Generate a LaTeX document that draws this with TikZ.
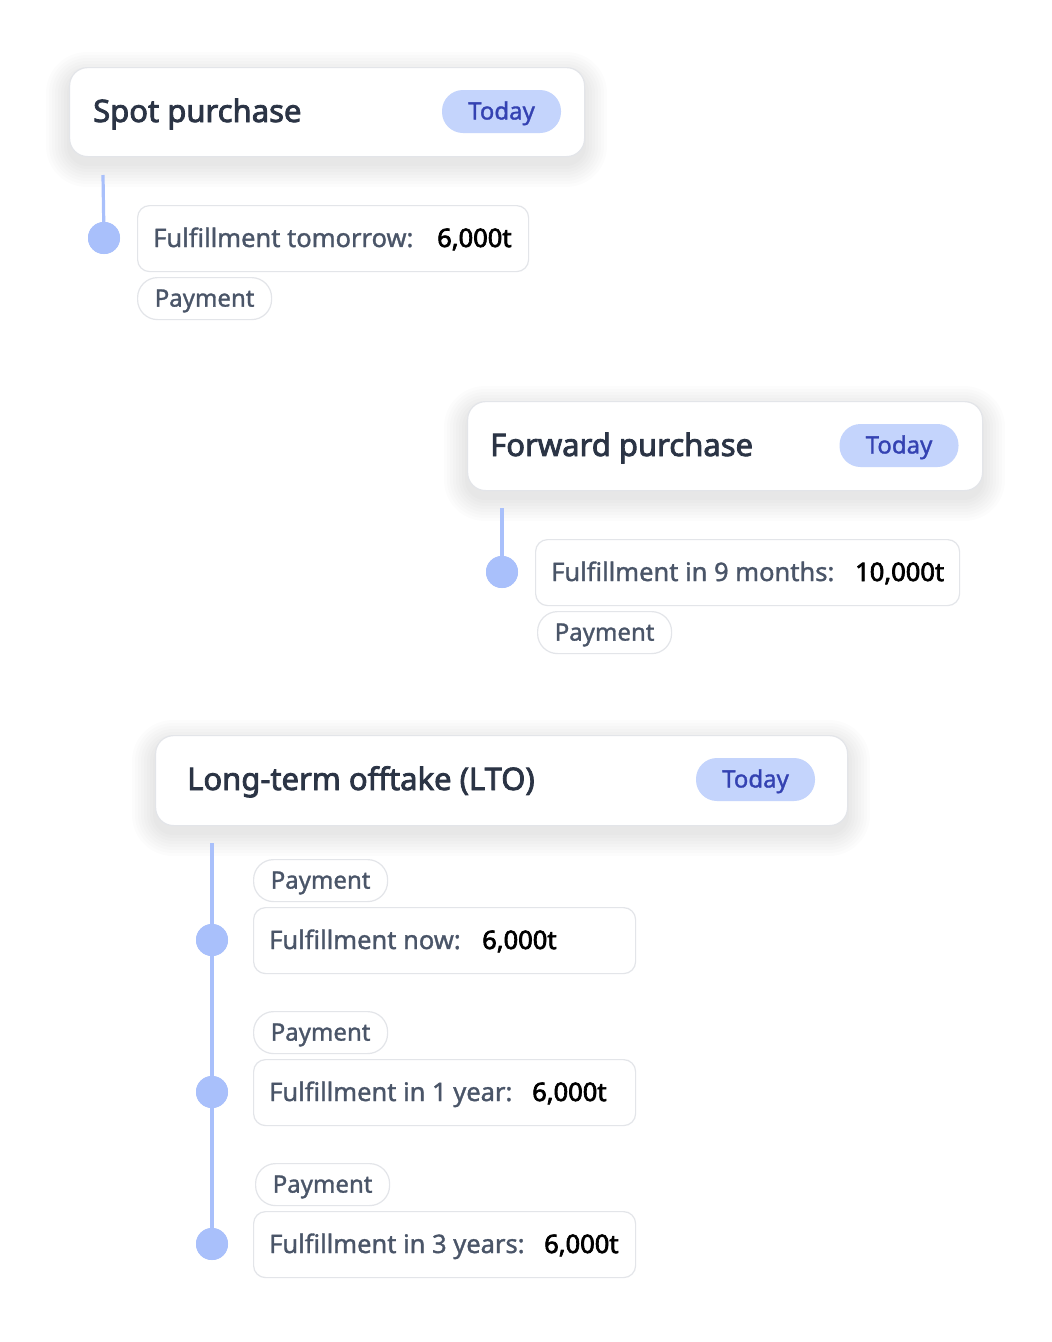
\documentclass[tikz,border=0pt]{standalone}
\usepackage{fontspec}
\setmainfont{Noto Sans}
\newfontfamily\semib[FakeBold=2.6]{Noto Sans}
\newfontfamily\medf[FakeBold=1.3]{Noto Sans}
\usetikzlibrary{positioning,calc}

\definecolor{titlec}{HTML}{2B3445}
\definecolor{labelc}{HTML}{4A5568}
\definecolor{pillfill}{HTML}{C4D4FC}
\definecolor{pilltext}{HTML}{3442B2}
\definecolor{linec}{HTML}{A9C0FB}
\definecolor{borderc}{HTML}{E3E5E9}

\tikzset{
  card/.style={draw=borderc, line width=1.2pt, fill=white, rounded corners=18pt, anchor=north west, inner sep=0pt},
  today/.style={fill=pillfill, rounded corners=21pt, minimum width=119pt, minimum height=43pt, inner sep=0pt},
  ful/.style={draw=borderc, line width=1.2pt, fill=white, rounded corners=12pt, anchor=north west, minimum height=66pt, inner sep=0pt},
  pay/.style={draw=borderc, line width=1.2pt, fill=white, rounded corners=20pt, anchor=north west, minimum width=134pt, minimum height=42pt, inner sep=0pt},
  ttl/.style={anchor=base west, text=titlec, font=\semib\fontsize{31}{36}\selectfont, inner sep=0pt},
  lbl/.style={anchor=base west, text=labelc, font=\medf\fontsize{25.5}{30}\selectfont, inner sep=0pt},
  val/.style={anchor=base west, text=black, font=\semib\fontsize{25.5}{30}\selectfont, inner sep=0pt},
  paytxt/.style={anchor=base, text=labelc, font=\medf\fontsize{24}{28}\selectfont, inner sep=0pt},
  todaytxt/.style={anchor=base, text=pilltext, font=\medf\fontsize{24}{28}\selectfont, inner sep=0pt},
  dot/.style={circle, fill=linec, minimum size=32pt, inner sep=0pt},
  tl/.style={draw=linec, line width=3.2pt}
}
% soft shadow under a card: #1 = north west, #2 = south east
\newcommand{\cardshadow}[2]{%
  \foreach \s in {2,5,...,23}
    \fill[black, opacity=0.011, rounded corners=18pt+\s pt] ($#1+(-\s,-\s+8)$) rectangle ($#2+(\s,\s+8)$);%
}

\begin{document}
\begin{tikzpicture}[x=1pt,y=-1pt]
  \useasboundingbox[fill=white] (0,0) rectangle (1052,1342);

  %Spot purchase
  \cardshadow{(69,67)}{(584,156)}
  \node[card, minimum width=515pt, minimum height=89pt] (card1) at (69,67) {};
  \node[ttl] (title1) at (93,122) {Spot purchase};
  \node[today] (today1) at (501.5,111.5) {};
  \node[todaytxt] at ($(today1.center)+(0,8)$) {Today};
  \coordinate (top1) at (103,175);
  \node[dot] (dot1) at (104,238) {};
  \draw[tl] (top1) -- (dot1.center);
  \node[dot] at (dot1) {};
  \node[ful, minimum width=391pt] (ful1) at (137,205) {};
  \node[lbl] (lbl1) at (153,247) {Fulfillment tomorrow:};
  \node[val] (val1) at (437,247) {6,000t};
  \node[pay] (pay1) at (137,277) {};
  \node[paytxt] at ($(pay1.center)+(0,8)$) {Payment};

  %Forward purchase
  \cardshadow{(467,401)}{(982,490)}
  \node[card, minimum width=515pt, minimum height=89pt] (card2) at (467,401) {};
  \node[ttl] (title2) at (490,456) {Forward purchase};
  \node[today] (today2) at (899,445.5) {};
  \node[todaytxt] at ($(today2.center)+(0,8)$) {Today};
  \coordinate (top2) at (502,508);
  \node[dot] (dot2) at (502,572) {};
  \draw[tl] (top2) -- (dot2.center);
  \node[dot] at (dot2) {};
  \node[ful, minimum width=424pt] (ful2) at (535,539) {};
  \node[lbl] (lbl2) at (551,581) {Fulfillment in 9 months:};
  \node[val] (val2) at (855,581) {10,000t};
  \node[pay] (pay2) at (537,611) {};
  \node[paytxt] at ($(pay2.center)+(0,8)$) {Payment};

  %Long-term offtake
  \cardshadow{(155,735)}{(847,825)}
  \node[card, minimum width=692pt, minimum height=90pt] (card3) at (155,735) {};
  \node[ttl] (title3) at (187,790) {Long-term offtake (LTO)};
  \node[today] (today3) at (755.5,779.5) {};
  \node[todaytxt] at ($(today3.center)+(0,8)$) {Today};
  \coordinate (top3) at (212,843);
  \node[dot] (dot3a) at (212,940) {};
  \node[dot] (dot3b) at (212,1092) {};
  \node[dot] (dot3c) at (212,1244) {};
  \draw[tl] (top3) -- (dot3a.center) -- (dot3b.center) -- (dot3c.center);
  \foreach \d in {dot3a,dot3b,dot3c}
    \node[dot] at (\d) {};

  \node[pay] (pay3a) at (253,859) {};
  \node[paytxt] at ($(pay3a.center)+(0,8)$) {Payment};
  \node[ful, minimum width=382pt] (ful3a) at (253,907) {};
  \node[lbl] (lbl3a) at (269,949) {Fulfillment now:};
  \node[val] (val3a) at (482,949) {6,000t};

  \node[pay] (pay3b) at (253,1011) {};
  \node[paytxt] at ($(pay3b.center)+(0,8)$) {Payment};
  \node[ful, minimum width=382pt] (ful3b) at (253,1059) {};
  \node[lbl] (lbl3b) at (269,1101) {Fulfillment in 1 year:};
  \node[val] (val3b) at (532,1101) {6,000t};

  \node[pay] (pay3c) at (255,1163) {};
  \node[paytxt] at ($(pay3c.center)+(0,8)$) {Payment};
  \node[ful, minimum width=382pt] (ful3c) at (253,1211) {};
  \node[lbl] (lbl3c) at (269,1253) {Fulfillment in 3 years:};
  \node[val] (val3c) at (544,1253) {6,000t};
\end{tikzpicture}
\end{document}
